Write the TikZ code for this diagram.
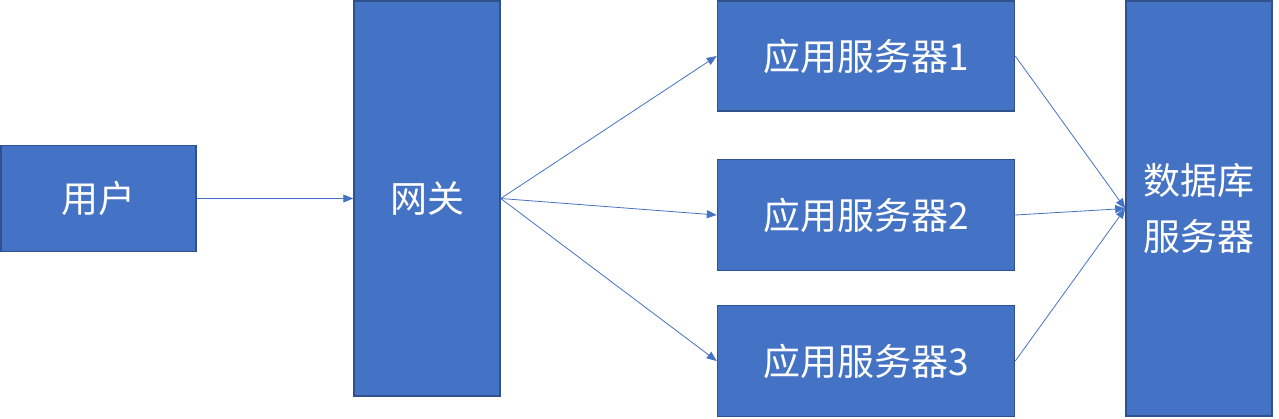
\documentclass[tikz,border=0pt]{standalone}
\usepackage{fontspec}
\newfontfamily\cjk{Noto Sans CJK SC}
\usetikzlibrary{arrows.meta}
\definecolor{fillb}{HTML}{4472C4}
\definecolor{edgeb}{HTML}{2F528F}
\begin{document}
\begin{tikzpicture}[x=1pt,y=-1pt,
 box/.style={draw=edgeb,fill=fillb,line width=1.5pt,text=white,font=\cjk\fontsize{37}{56}\selectfont,align=center,inner sep=0pt},
 conn/.style={draw=fillb,line width=0.8pt,-{Triangle[length=10pt,width=8pt]}}]
\useasboundingbox (0,0) rectangle (1279,418);
\node[box,minimum width=195pt,minimum height=106pt] (user) at (98.5,198.5) {用户};
\node[box,minimum width=146pt,minimum height=395pt] (gw) at (427,198.5) {网关};
\node[box,minimum width=297pt,minimum height=110pt] (a1) at (866,56) {应用服务器1};
\node[box,minimum width=297pt,minimum height=111pt] (a2) at (866,215) {应用服务器2};
\node[box,minimum width=297pt,minimum height=111pt] (a3) at (866,361) {应用服务器3};
\node[box,minimum width=146pt,minimum height=415pt] (db) at (1199,208.5) {数据库\\服务器};
\draw[conn] (user.east) -- (gw.west);
\draw[conn] (gw.east) -- (a1.west);
\draw[conn] (gw.east) -- (a2.west);
\draw[conn] (gw.east) -- (a3.west);
\draw[conn] (a1.east) -- (db.west);
\draw[conn] (a2.east) -- (db.west);
\draw[conn] (a3.east) -- (db.west);
\end{tikzpicture}
\end{document}
